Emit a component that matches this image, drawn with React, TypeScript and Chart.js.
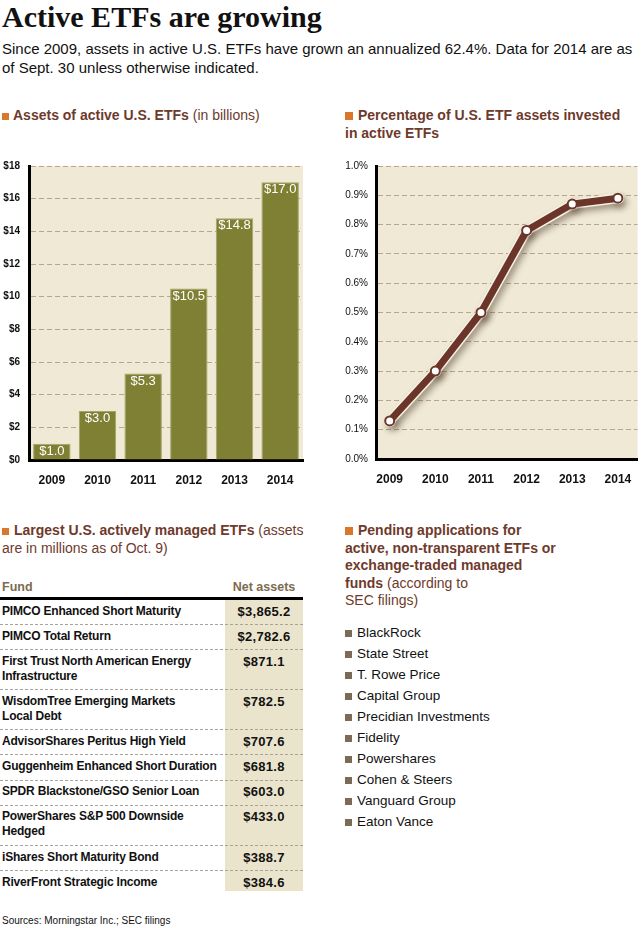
import React, { useEffect, useRef } from 'react';
import { Chart, registerables } from 'chart.js';

Chart.register(...registerables);

// ---------- data ----------
const years = ['2009', '2010', '2011', '2012', '2013', '2014'];
const yearNums = [2009, 2010, 2011, 2012, 2013, 2014];
const assetsBillions = [1.0, 3.0, 5.3, 10.5, 14.8, 17.0];
const activeSharePct = [0.13, 0.30, 0.50, 0.78, 0.87, 0.89];

const fundNames = [
  'PIMCO Enhanced Short Maturity',
  'PIMCO Total Return',
  'First Trust North American Energy\nInfrastructure',
  'WisdomTree Emerging Markets\nLocal Debt',
  'AdvisorShares Peritus High Yield',
  'Guggenheim Enhanced Short Duration',
  'SPDR Blackstone/GSO Senior Loan',
  'PowerShares S&P 500 Downside\nHedged',
  'iShares Short Maturity Bond',
  'RiverFront Strategic Income',
];
const fundNetAssets = [3865.2, 2782.6, 871.1, 782.5, 707.6, 681.8, 603.0, 433.0, 388.7, 384.6];

const applicants = [
  'BlackRock',
  'State Street',
  'T. Rowe Price',
  'Capital Group',
  'Precidian Investments',
  'Fidelity',
  'Powershares',
  'Cohen & Steers',
  'Vanguard Group',
  'Eaton Vance',
];

// ---------- styles ----------
const SANS = '"Liberation Sans", Arial, sans-serif';
const SERIF = '"Liberation Serif", "Times New Roman", serif';
const ORANGE = '#d9782d';
const BROWN = '#6e3a2c';
const PLOT_BG = '#efe9d6';
const GRID = '#b5a68c';
const BAR = '#808034';
const LINE = '#6b3529';
const COL_BG = '#ebe4cd';

const plotBg = {
  id: 'plotBg',
  beforeDraw(chart: any) {
    const { ctx, chartArea: a } = chart;
    ctx.save();
    ctx.fillStyle = PLOT_BG;
    ctx.fillRect(a.left, a.top, a.right - a.left, a.bottom - a.top);
    ctx.restore();
  },
};

const barLabels = {
  id: 'barLabels',
  afterDatasetsDraw(chart: any) {
    const { ctx } = chart;
    const meta = chart.getDatasetMeta(0);
    const vals = chart.data.datasets[0].data as number[];
    ctx.save();
    ctx.fillStyle = '#ffffff';
    ctx.font = `13px ${SANS}`;
    ctx.textAlign = 'center';
    ctx.textBaseline = 'middle';
    meta.data.forEach((el: any, i: number) => {
      ctx.fillText('$' + vals[i].toFixed(1), el.x, el.y + 7.5);
    });
    ctx.restore();
  },
};

const lineShadow = {
  id: 'lineShadow',
  beforeDatasetDraw(chart: any, args: any) {
    if (args.index === 1) {
      const c = chart.ctx;
      c.save();
      c.shadowColor = 'rgba(70,50,30,0.45)';
      c.shadowBlur = 6;
      c.shadowOffsetX = 3;
      c.shadowOffsetY = 4;
    }
  },
  afterDatasetDraw(chart: any, args: any) {
    if (args.index === 1) chart.ctx.restore();
  },
};

function BarChart() {
  const ref = useRef<HTMLCanvasElement | null>(null);
  useEffect(() => {
    const chart = new Chart(ref.current!, {
      type: 'bar',
      data: {
        labels: years,
        datasets: [
          {
            data: assetsBillions,
            backgroundColor: BAR,
            borderColor: '#a6a566',
            borderWidth: 1,
            barPercentage: 0.82,
            categoryPercentage: 1,
          },
        ],
      },
      options: {
        animation: false,
        responsive: false,
        events: [],
        layout: { padding: { top: 16, right: 7, left: 0, bottom: 0 } },
        plugins: { legend: { display: false }, tooltip: { enabled: false } },
        scales: {
          x: {
            grid: { display: false },
            border: { display: true, color: '#000', width: 3 },
            ticks: { color: '#111', font: { family: SANS, size: 12, weight: 'bold' }, padding: 5 },
            afterFit: (s: any) => { s.height = 25; },
          },
          y: {
            min: 0,
            max: 18,
            grid: { color: GRID, lineWidth: 1, drawTicks: false },
            border: { display: true, color: '#000', width: 3, dash: [5, 3] },
            ticks: {
              stepSize: 2,
              color: '#111',
              padding: 9,
              font: { family: SANS, size: 10, weight: 'bold' },
              callback: (v: any) => '$' + v,
            },
            afterFit: (s: any) => { s.width = 29; },
          },
        },
      },
      plugins: [plotBg, barLabels],
    } as any);
    return () => chart.destroy();
  }, []);
  return <canvas ref={ref} width={310} height={335} style={{ position: 'absolute', left: 0, top: 150 }} />;
}

function LineChart() {
  const ref = useRef<HTMLCanvasElement | null>(null);
  useEffect(() => {
    const pts = yearNums.map((y, i) => ({ x: y, y: activeSharePct[i] }));
    const chart = new Chart(ref.current!, {
      type: 'line',
      data: {
        datasets: [
          {
            data: pts,
            borderColor: LINE,
            borderWidth: 7,
            tension: 0,
            clip: false,
            pointRadius: 4.5,
            pointBackgroundColor: '#ffffff',
            pointBorderColor: LINE,
            pointBorderWidth: 2,
          },
          {
            data: pts,
            borderColor: '#f7f2e5',
            borderWidth: 10,
            tension: 0,
            clip: false,
            pointRadius: 6,
            pointBackgroundColor: '#f7f2e5',
            pointBorderWidth: 0,
          },
        ],
      },
      options: {
        animation: false,
        responsive: false,
        events: [],
        layout: { padding: { top: 16, right: 0, left: 0, bottom: 0 } },
        plugins: { legend: { display: false }, tooltip: { enabled: false } },
        scales: {
          x: {
            type: 'linear',
            min: 2008.7,
            max: 2014.43,
            grid: { display: false },
            border: { display: true, color: '#000', width: 3 },
            ticks: {
              color: '#111',
              font: { family: SANS, size: 12, weight: 'bold' },
              padding: 5,
              callback: (v: any) => String(v),
            },
            afterBuildTicks: (s: any) => { s.ticks = yearNums.map((v) => ({ value: v })); },
            afterFit: (s: any) => { s.height = 26; },
          },
          y: {
            min: 0,
            max: 1.0,
            grid: { color: GRID, lineWidth: 1, drawTicks: false },
            border: { display: true, color: '#000', width: 3, dash: [5, 3] },
            ticks: {
              stepSize: 0.1,
              color: '#111',
              padding: 8,
              font: { family: SANS, size: 10 },
              callback: (v: any) => Number(v).toFixed(1) + '%',
            },
            afterFit: (s: any) => { s.width = 56; },
          },
        },
      },
      plugins: [plotBg, lineShadow],
    } as any);
    return () => chart.destroy();
  }, []);
  return <canvas ref={ref} width={324} height={335} style={{ position: 'absolute', left: 320, top: 150 }} />;
}

const sq = (color: string, size: number, mr: number): React.CSSProperties => ({
  display: 'inline-block',
  width: size,
  height: size,
  background: color,
  marginRight: mr,
  verticalAlign: 'baseline',
});

const fmtMoney = (v: number) =>
  '$' + v.toLocaleString('en-US', { minimumFractionDigits: 1, maximumFractionDigits: 1 });

export default function App() {
  const header: React.CSSProperties = {
    position: 'absolute',
    fontFamily: SANS,
    fontSize: 14,
    lineHeight: '17.5px',
    color: BROWN,
    whiteSpace: 'nowrap',
  };
  return (
    <div
      style={{
        position: 'absolute',
        left: 0,
        top: 0,
        width: 644,
        height: 928,
        background: '#fff',
        overflow: 'hidden',
        fontFamily: SANS,
        color: '#111',
      }}
    >
      <div
        style={{
          position: 'absolute',
          left: 2,
          top: 2,
          fontFamily: SERIF,
          fontWeight: 'bold',
          fontSize: 30,
          lineHeight: '30px',
          whiteSpace: 'nowrap',
          color: '#111',
        }}
      >
        Active ETFs are growing
      </div>
      <div
        style={{
          position: 'absolute',
          left: 2,
          top: 40,
          fontSize: 15,
          lineHeight: '18.5px',
          whiteSpace: 'nowrap',
        }}
      >
        Since 2009, assets in active U.S. ETFs have grown an annualized 62.4%. Data for 2014 are as
        <br />
        of Sept. 30 unless otherwise indicated.
      </div>

      <div style={{ ...header, left: 2, top: 107 }}>
        <span style={sq(ORANGE, 7, 4)} />
        <b>Assets of active U.S. ETFs</b> (in billions)
      </div>
      <div style={{ ...header, left: 345, top: 107 }}>
        <span style={sq(ORANGE, 8, 5)} />
        <b>Percentage of U.S. ETF assets invested</b>
        <br />
        <b>in active ETFs</b>
      </div>

      <BarChart />
      <LineChart />

      <div style={{ ...header, left: 2, top: 522 }}>
        <span style={sq(ORANGE, 7, 5)} />
        <b>Largest U.S. actively managed ETFs</b> (assets
        <br />
        are in millions as of Oct. 9)
      </div>

      {/* table */}
      <div style={{ position: 'absolute', left: 225, top: 600, width: 78, height: 291, background: COL_BG }} />
      <div
        style={{
          position: 'absolute',
          left: 2,
          top: 580,
          fontSize: 12.5,
          fontWeight: 'bold',
          color: '#7d6b4f',
          lineHeight: '14px',
        }}
      >
        Fund
      </div>
      <div
        style={{
          position: 'absolute',
          left: 225,
          width: 78,
          top: 580,
          textAlign: 'center',
          fontSize: 12.5,
          fontWeight: 'bold',
          color: '#7d6b4f',
          lineHeight: '14px',
        }}
      >
        Net assets
      </div>
      <div style={{ position: 'absolute', left: 0, top: 597, width: 303, height: 2.5, background: '#000' }} />
      <div style={{ position: 'absolute', left: 0, top: 600, width: 303 }}>
        {fundNames.map((name, i) => (
          <div
            key={name}
            style={{
              display: 'flex',
              paddingTop: 3.8,
              paddingBottom: 5.3,
              borderBottom: i < fundNames.length - 1 ? '1px dashed #a9a49a' : 'none',
              lineHeight: '15px',
              fontWeight: 'bold',
            }}
          >
            <div
              style={{
                width: 223,
                paddingLeft: 2,
                fontSize: 12,
                letterSpacing: -0.2,
                whiteSpace: 'pre-line',
              }}
            >
              {name}
            </div>
            <div style={{ width: 78, textAlign: 'center', fontSize: 13, letterSpacing: 0.3 }}>
              {fmtMoney(fundNetAssets[i])}
            </div>
          </div>
        ))}
      </div>

      <div style={{ ...header, left: 345, top: 522 }}>
        <span style={sq(ORANGE, 8, 5)} />
        <b>Pending applications for</b>
        <br />
        <b>active, non-transparent ETFs or</b>
        <br />
        <b>exchange-traded managed</b>
        <br />
        <b>funds</b> (according to
        <br />
        SEC filings)
      </div>

      <div style={{ position: 'absolute', left: 345, top: 622, fontSize: 13.5, lineHeight: '21px', color: '#111' }}>
        {applicants.map((a) => (
          <div key={a} style={{ whiteSpace: 'nowrap' }}>
            <span style={sq('#7b6a58', 7, 5)} />
            {a}
          </div>
        ))}
      </div>

      <div style={{ position: 'absolute', left: 2, top: 915, fontSize: 10, lineHeight: '12px', color: '#111' }}>
        Sources: Morningstar Inc.; SEC filings
      </div>
    </div>
  );
}
